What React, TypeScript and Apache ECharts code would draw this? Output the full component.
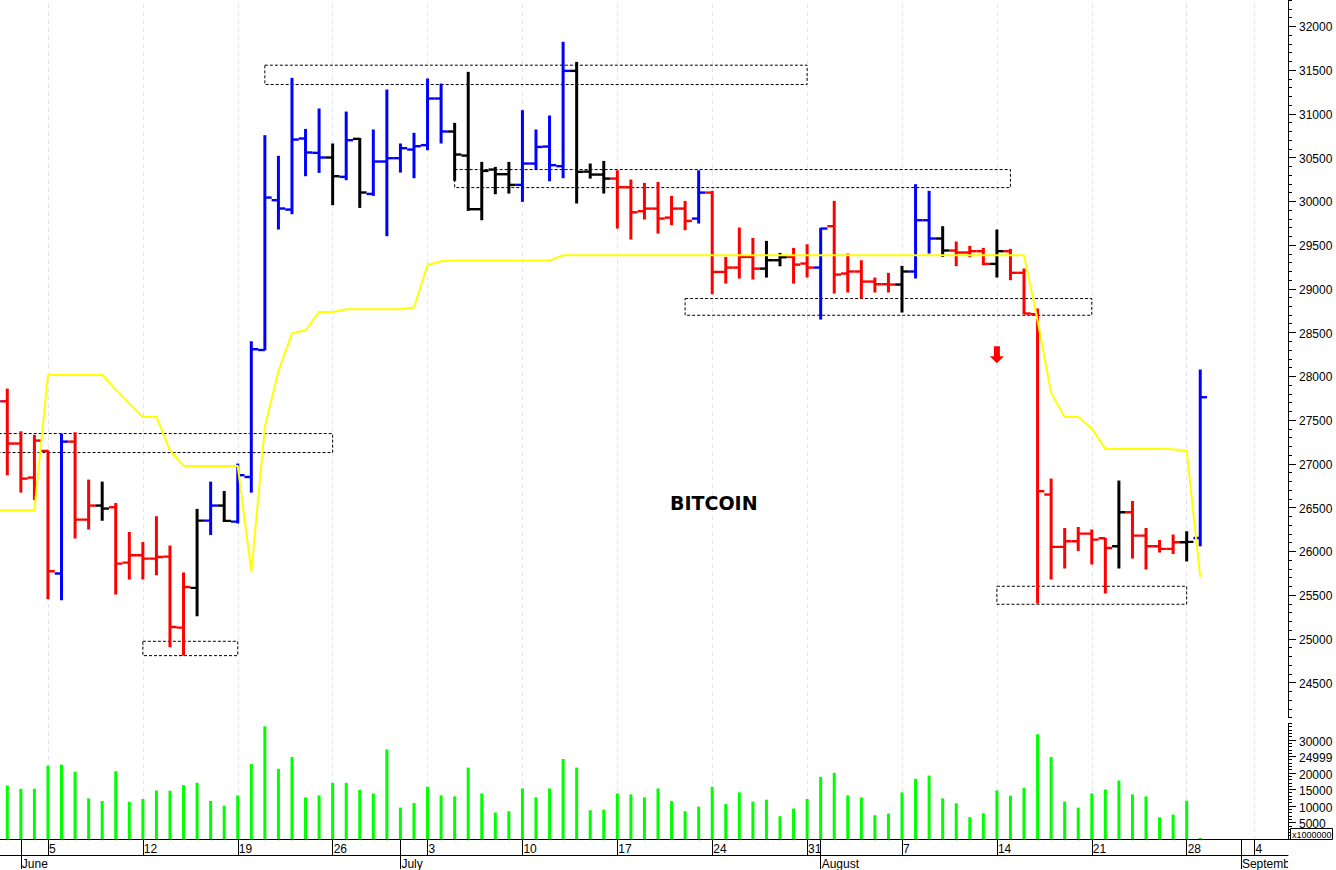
import { useEffect, useRef } from 'react';
import * as echarts from 'echarts';

// first entry is the bar just off the left edge, so bar i sits on day i - 1
const opens = [27600, 27714, 27231, 26842, 27147, 25745, 27253, 26362, 26522, 26503, 25870, 25954, 25916, 25939, 25127, 25581, 26350, 26522, 26339, 26849, 28300, 30012, 29905, 30717, 30553, 30500, 30279, 30713, 30084, 30454, 30492, 30591, 30641, 31174, 30797, 30522, 29909, 30362, 30309, 30187, 30431, 30625, 30401, 31490, 30339, 30305, 30259, 30160, 29886, 29916, 29813, 29916, 29802, 30099, 29192, 29242, 29364, 29230, 29326, 29364, 29288, 29242, 29715, 29174, 29197, 29082, 29052, 29048, 29197, 29783, 29574, 29437, 29414, 29429, 29284, 29429, 29182, 28709, 26648, 26050, 26114, 26202, 26149, 26057, 26446, 26179, 26057, 26027, 26103, 26152];
const highs = [27900, 27859, 27371, 27330, 27154, 27345, 27360, 26819, 26796, 26552, 26221, 26107, 26400, 26065, 25756, 26484, 26796, 26689, 27002, 28400, 30755, 30519, 31410, 30827, 31060, 30660, 31025, 30724, 30820, 31277, 30660, 30782, 31403, 31345, 30896, 31479, 30450, 30393, 30450, 31041, 30820, 30980, 31822, 31593, 30431, 30461, 30354, 30248, 30210, 30221, 30061, 30004, 30354, 30118, 29364, 29699, 29581, 29547, 29410, 29467, 29509, 29696, 30004, 29402, 29326, 29128, 29182, 29262, 30195, 30119, 29715, 29540, 29490, 29467, 29677, 29456, 29231, 28774, 26831, 26267, 26278, 26248, 26152, 26808, 26575, 26267, 26130, 26191, 26229, 28077];
const lows = [27500, 26869, 26670, 26583, 25451, 25440, 26145, 26248, 26350, 25505, 25676, 25676, 25726, 24903, 24807, 25257, 26187, 26335, 26316, 26670, 28297, 29677, 29852, 30286, 30324, 29955, 30240, 29924, 30061, 29600, 30328, 30263, 30583, 30660, 30233, 29890, 29783, 30080, 30088, 29993, 30362, 30229, 30263, 29974, 30259, 30088, 29688, 29562, 29791, 29630, 29726, 29669, 29745, 28937, 29059, 29116, 29105, 29128, 29257, 29059, 29128, 28648, 28945, 28957, 28888, 28957, 28957, 28728, 29117, 29402, 29364, 29258, 29361, 29269, 29128, 29098, 28709, 25402, 25676, 25802, 26004, 25848, 25516, 25802, 25916, 25791, 25985, 25970, 25882, 26057];
const closes = [27714, 27231, 26830, 27265, 25771, 27253, 26362, 26522, 26488, 25859, 25954, 25916, 25935, 25135, 25592, 26350, 26522, 26347, 26869, 28309, 30042, 29917, 30705, 30557, 30500, 30286, 30698, 30100, 30454, 30492, 30606, 30629, 31174, 30797, 30534, 29909, 30347, 30309, 30187, 30431, 30621, 30412, 31490, 30336, 30305, 30259, 30160, 29874, 29916, 29802, 29916, 29775, 30099, 29192, 29242, 29364, 29230, 29326, 29360, 29276, 29242, 29688, 29162, 29197, 29082, 29052, 29048, 29197, 29783, 29574, 29437, 29414, 29429, 29284, 29429, 29182, 28717, 26686, 26050, 26114, 26202, 26133, 26038, 26446, 26179, 26057, 26027, 26103, 26107, 27760];
const barTrend = 'brrrrbrrkrrrrrrkbkbbbbbbbkbkbbbbbbkkkkkbbbbkkkrrrrrrbrrrrkkrrbrrrrrkbbkrrrkrrrrrrrrkrrrrkb';

// yellow average, same indexing as the bars (starts at day -1)
const average = [26468, 26468, 26468, 26468, 28015, 28015, 28015, 28015, 28015, 27848, 27688, 27535, 27535, 27154, 26975, 26975, 26975, 26975, 26975, 25764, 27421, 28060, 28491, 28526, 28735, 28735, 28766, 28766, 28766, 28766, 28766, 28785, 29272, 29314, 29322, 29322, 29322, 29322, 29322, 29322, 29322, 29322, 29383, 29383, 29383, 29383, 29383, 29383, 29383, 29383, 29383, 29383, 29383, 29383, 29383, 29383, 29383, 29383, 29383, 29383, 29383, 29383, 29383, 29383, 29383, 29383, 29383, 29383, 29383, 29383, 29383, 29383, 29383, 29383, 29383, 29383, 29383, 28640, 27810, 27535, 27535, 27402, 27170, 27170, 27170, 27170, 27170, 27166, 27147, 25707];

const volumes = [16200, 15200, 15200, 22200, 22500, 20300, 12300, 11500, 20500, 11300, 12100, 14700, 14600, 16300, 17000, 11500, 10100, 13200, 22700, 34100, 21200, 24800, 12600, 13200, 17000, 17000, 14900, 13800, 27100, 9500, 10900, 15800, 13200, 12900, 21600, 13800, 8000, 8400, 15300, 12600, 15300, 24200, 21600, 8700, 8900, 13800, 13500, 12600, 15300, 11500, 8400, 9800, 15800, 10600, 14100, 11300, 11900, 6900, 9200, 12100, 18800, 20000, 13200, 12600, 7200, 7700, 14100, 18200, 19200, 12300, 10800, 6600, 7800, 14700, 13100, 15500, 31700, 24800, 11300, 9500, 13800, 15000, 17700, 13500, 12900, 6600, 7400, 11600, 300];

// dotted boxes: first day, last day, low, high
const zones = [
    [-1, 24, 27128, 27345],
    [10, 17, 24807, 24971],
    [19, 59, 31334, 31555],
    [33, 74, 30156, 30362],
    [50, 80, 28697, 28888],
    [73, 87, 25394, 25600],
];
const arrowPoint = [[73, 28246]];

const dayTicks = [3, 10, 17, 24, 31, 38, 45, 52, 59, 66, 73, 80, 87, 92];
const dayLabels = ['5', '12', '19', '26', '3', '10', '17', '24', '31', '7', '14', '21', '28', '4'];
const monthTicks = [1, 29, 60, 91];
const monthLabels = ['June', 'July', 'August', 'Septemb'];
const priceTicks = [24500, 25000, 25500, 26000, 26500, 27000, 27500, 28000, 28500, 29000, 29500, 30000, 30500, 31000, 31500, 32000];
const volumeTicks = [5000, 10000, 15000, 20000, 24999, 30000];

const xMin = -0.5385;
const xMax = 94.474;
const fontFamily = '"Liberation Sans", Arial, sans-serif';
const trendColors: any = { r: '#ff0000', b: '#0000ff', k: '#000000' };

const noAxisParts = {
    axisLine: { show: false, onZero: false },
    axisTick: { show: false },
    axisLabel: { show: false },
    splitLine: { show: false },
};

const App = () => {
    const chartRef = useRef<HTMLDivElement | null>(null);

    useEffect(() => {
        if (!chartRef.current) return;
        const chart = echarts.init(chartRef.current, undefined, { renderer: 'svg' });

        const bars = opens.map((o, i) => [i - 1, o, highs[i], lows[i], closes[i], barTrend[i]]);

        const renderBar = (params: any, api: any) => {
            const x = api.value(0);
            const color = trendColors[bars[params.dataIndex][5] as string];
            const open = api.coord([x, api.value(1)]);
            const high = api.coord([x, api.value(2)]);
            const low = api.coord([x, api.value(3)]);
            const close = api.coord([x, api.value(4)]);
            return {
                type: 'group',
                children: [
                    { type: 'line', shape: { x1: high[0], y1: high[1], x2: low[0], y2: low[1] }, style: { stroke: color, lineWidth: 3 } },
                    { type: 'line', shape: { x1: open[0] - 6.8, y1: open[1], x2: open[0], y2: open[1] }, style: { stroke: color, lineWidth: 2.4 } },
                    { type: 'line', shape: { x1: close[0], y1: close[1], x2: close[0] + 6.8, y2: close[1] }, style: { stroke: color, lineWidth: 2.4 } },
                ],
            };
        };

        const renderZone = (_params: any, api: any) => {
            const a = api.coord([api.value(0), api.value(3)]);
            const b = api.coord([api.value(1), api.value(2)]);
            return {
                type: 'rect',
                shape: { x: a[0], y: a[1], width: b[0] - a[0], height: b[1] - a[1] },
                style: { fill: 'none', stroke: '#000000', lineWidth: 1, lineDash: [3, 2] },
            };
        };

        const option = {
            animation: false,
            backgroundColor: '#ffffff',
            grid: [
                { left: 0, top: 0, width: 1288, height: 717.5 },
                { left: 0, top: 723.33, width: 1288, height: 116.67 },
                { left: 0, top: 0, width: 1288, height: 840 },
            ],
            xAxis: [
                { type: 'value', gridIndex: 0, min: xMin, max: xMax, position: 'bottom', ...noAxisParts },
                {
                    type: 'value', gridIndex: 1, min: xMin, max: xMax, position: 'bottom',
                    axisLine: { show: true, onZero: false, lineStyle: { color: '#000000', width: 1 } },
                    axisTick: { show: true, length: 16, customValues: dayTicks, lineStyle: { color: '#000000' } },
                    axisLabel: {
                        show: true, customValues: dayTicks, margin: 4, align: 'left', verticalAlign: 'top', padding: [0, 0, 0, 1],
                        color: '#000000', fontSize: 12, fontFamily,
                        formatter: (v: number) => dayLabels[dayTicks.indexOf(v)],
                    },
                    splitLine: { show: false },
                },
                {
                    type: 'value', gridIndex: 1, min: xMin, max: xMax, position: 'bottom', offset: 16,
                    axisLine: { show: true, onZero: false, lineStyle: { color: '#000000', width: 1 } },
                    axisTick: { show: false }, axisLabel: { show: false }, splitLine: { show: false },
                },
                {
                    type: 'value', gridIndex: 1, min: xMin, max: xMax, position: 'bottom',
                    axisLine: { show: false, onZero: false },
                    axisTick: { show: true, length: 30, customValues: monthTicks, lineStyle: { color: '#000000' } },
                    axisLabel: {
                        show: true, customValues: monthTicks, margin: 19, align: 'left', verticalAlign: 'top', padding: [0, 0, 0, 1],
                        color: '#000000', fontSize: 12, fontFamily,
                        formatter: (v: number) => monthLabels[monthTicks.indexOf(v)],
                    },
                    splitLine: { show: false },
                },
                { type: 'value', gridIndex: 2, min: xMin, max: xMax, position: 'bottom', ...noAxisParts },
            ],
            yAxis: [
                {
                    type: 'value', gridIndex: 0, min: 24100, max: 32300, position: 'right',
                    axisLine: { show: true, onZero: false, lineStyle: { color: '#000000', width: 1 } },
                    axisTick: { show: true, length: 8, customValues: priceTicks, lineStyle: { color: '#000000' } },
                    axisLabel: { show: true, customValues: priceTicks, margin: 11, verticalAlign: 'top', lineHeight: 2, color: '#000000', fontSize: 12, fontFamily, formatter: (v: number) => String(v) },
                    splitLine: { show: false },
                },
                {
                    type: 'value', gridIndex: 0, min: 24100, max: 32300, interval: 100, position: 'right',
                    axisLine: { show: false, onZero: false },
                    axisTick: { show: true, length: 4, lineStyle: { color: '#000000' } },
                    axisLabel: { show: false }, splitLine: { show: false },
                },
                {
                    type: 'value', gridIndex: 1, min: 0, max: 35000, position: 'right',
                    axisLine: { show: true, onZero: false, lineStyle: { color: '#000000', width: 1 } },
                    axisTick: { show: true, length: 8, customValues: volumeTicks, lineStyle: { color: '#000000' } },
                    axisLabel: { show: true, customValues: volumeTicks, margin: 11, verticalAlign: 'top', lineHeight: 4, color: '#000000', fontSize: 12, fontFamily, formatter: (v: number) => String(v) },
                    splitLine: { show: false },
                },
                {
                    type: 'value', gridIndex: 1, min: 0, max: 35000, interval: 1000, position: 'right',
                    axisLine: { show: false, onZero: false },
                    axisTick: { show: true, length: 4, lineStyle: { color: '#000000' } },
                    axisLabel: { show: false }, splitLine: { show: false },
                },
                { type: 'value', gridIndex: 2, min: 0, max: 1, position: 'right', ...noAxisParts },
            ],
            series: [
                {
                    // weekly dashed verticals behind everything
                    type: 'line', xAxisIndex: 4, yAxisIndex: 4, data: [], z: 0, silent: true,
                    markLine: {
                        silent: true, symbol: 'none', animation: false, z: 0, label: { show: false },
                        lineStyle: { color: '#e2e2f7', type: [4, 4], width: 1 },
                        data: dayTicks.map((d) => ({ xAxis: d })),
                    },
                },
                {
                    type: 'custom', xAxisIndex: 0, yAxisIndex: 0, renderItem: renderZone, z: 1, silent: true,
                    data: zones, encode: { x: [0, 1], y: [2, 3] },
                },
                {
                    type: 'custom', xAxisIndex: 0, yAxisIndex: 0, renderItem: renderBar, z: 2, silent: true, clip: true,
                    data: bars.map((b) => b.slice(0, 5)), encode: { x: 0, y: [1, 2, 3, 4] },
                },
                {
                    type: 'line', xAxisIndex: 0, yAxisIndex: 0, z: 3, silent: true, showSymbol: false, symbol: 'none',
                    lineStyle: { color: '#ffff00', width: 2 },
                    data: average.map((v, i) => [i - 1, v]),
                },
                {
                    type: 'scatter', xAxisIndex: 0, yAxisIndex: 0, z: 4, silent: true,
                    symbol: 'path://M4 0H10V10H14L7 17L0 10H4Z', symbolSize: [14, 17],
                    itemStyle: { color: '#ff0000', opacity: 1 },
                    data: arrowPoint,
                },
                {
                    type: 'bar', xAxisIndex: 1, yAxisIndex: 2, z: 2, silent: true, barWidth: 3,
                    itemStyle: { color: '#00ff00' },
                    data: volumes.map((v, i) => [i, v]),
                },
            ],
            graphic: [
                {
                    type: 'text', left: 670, top: 493, z: 100,
                    style: { text: 'BITCOIN', fill: '#000000', font: 'bold 19px "DejaVu Sans", sans-serif' },
                },
                {
                    type: 'rect', z: 100, shape: { x: 1290.5, y: 828.5, width: 42, height: 11 },
                    style: { fill: '#ffffff', stroke: '#000000', lineWidth: 1 },
                },
                {
                    type: 'text', x: 1292, y: 830, z: 101,
                    style: { text: 'x1000000', fill: '#000000', font: `9px ${fontFamily}` },
                },
                {
                    // the month row stops at the price axis and cuts the last label off
                    type: 'rect', z: 100, shape: { x: 1288, y: 857, width: 48, height: 13 },
                    style: { fill: '#ffffff' },
                },
            ],
        };

        chart.setOption(option as any);
        return () => chart.dispose();
    }, []);

    return <div ref={chartRef} style={{ position: 'fixed', left: 0, top: 0, width: 1336, height: 870 }} />;
};

export default App;
